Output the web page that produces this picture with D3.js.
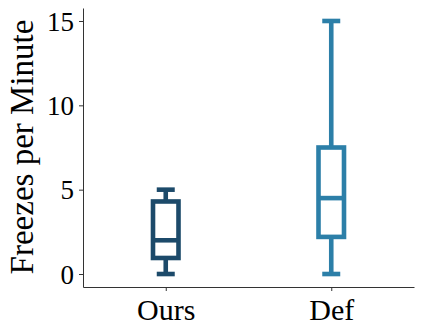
<!DOCTYPE html>
<html>
<head>
<meta charset="utf-8">
<script src="https://cdn.jsdelivr.net/npm/d3@7"></script>
<style>
    body { margin: 0; background: #fff; }
    svg { display: block; }
    text { font-family: "Liberation Serif", "Times New Roman", serif; fill: #000; }
</style>
</head>
<body>
<svg id="chart"></svg>
<script>
const categories = ['Ours', 'Def'];
const mins = [0, 0];
const q1s = [0.95, 2.2];
const medians = [2, 4.5];
const q3s = [4.3, 7.5];
const maxs = [5, 15];
const colors = ['#1c4a6a', '#2c7fa8'];
const yTicks = [0, 5, 10, 15];

const width = 423;
const height = 332;
const margin = { top: 8, right: 9, bottom: 45, left: 83 };

const svg = d3.select('#chart')
    .attr('width', width)
    .attr('height', height);

const x = d3.scalePoint()
    .domain(categories)
    .range([margin.left, width - margin.right])
    .padding(0.5);

const y = d3.scaleLinear()
    .domain([-0.77, 15.77])
    .range([height - margin.bottom, margin.top]);

const boxes = categories.map((c, i) => ({
    name: c, min: mins[i], q1: q1s[i], median: medians[i], q3: q3s[i], max: maxs[i], color: colors[i]
}));

// axes
const yAxis = svg.append('g')
    .attr('transform', `translate(${margin.left},0)`)
    .call(d3.axisLeft(y).tickValues(yTicks).tickSizeInner(4).tickSizeOuter(0).tickPadding(5));

const xAxis = svg.append('g')
    .attr('transform', `translate(0,${height - margin.bottom})`)
    .call(d3.axisBottom(x).tickSizeInner(4).tickSizeOuter(0).tickPadding(6));

[yAxis, xAxis].forEach(a => {
    a.select('.domain').attr('stroke', '#333').attr('stroke-width', 1);
    a.selectAll('.tick line').attr('stroke', '#333').attr('stroke-width', 1);
});

yAxis.selectAll('.tick text')
    .style('font-size', '27px')
    .attr('dy', '0.34em');

xAxis.selectAll('.tick text')
    .style('font-size', '30px')
    .attr('dy', '0.75em');

svg.append('text')
    .attr('transform', `translate(33,147) rotate(-90)`)
    .attr('text-anchor', 'middle')
    .style('font-size', '33px')
    .text('Freezes per Minute');

// boxes
const boxWidth = 25.5;
const capWidth = 18;
const sw = 4.6;

const g = svg.append('g')
    .selectAll('g')
    .data(boxes)
    .enter()
    .append('g')
    .attr('stroke', d => d.color)
    .attr('stroke-width', sw)
    .attr('fill', 'none');

g.append('line')
    .attr('x1', d => x(d.name)).attr('x2', d => x(d.name))
    .attr('y1', d => y(d.max)).attr('y2', d => y(d.q3));

g.append('line')
    .attr('x1', d => x(d.name)).attr('x2', d => x(d.name))
    .attr('y1', d => y(d.q1)).attr('y2', d => y(d.min));

g.append('line')
    .attr('x1', d => x(d.name) - capWidth / 2).attr('x2', d => x(d.name) + capWidth / 2)
    .attr('y1', d => y(d.max)).attr('y2', d => y(d.max));

g.append('line')
    .attr('x1', d => x(d.name) - capWidth / 2).attr('x2', d => x(d.name) + capWidth / 2)
    .attr('y1', d => y(d.min)).attr('y2', d => y(d.min));

g.append('rect')
    .attr('x', d => x(d.name) - boxWidth / 2)
    .attr('width', boxWidth)
    .attr('y', d => y(d.q3))
    .attr('height', d => y(d.q1) - y(d.q3))
    .attr('fill', '#fff');

g.append('line')
    .attr('x1', d => x(d.name) - boxWidth / 2).attr('x2', d => x(d.name) + boxWidth / 2)
    .attr('y1', d => y(d.median)).attr('y2', d => y(d.median));
</script>
</body>
</html>
